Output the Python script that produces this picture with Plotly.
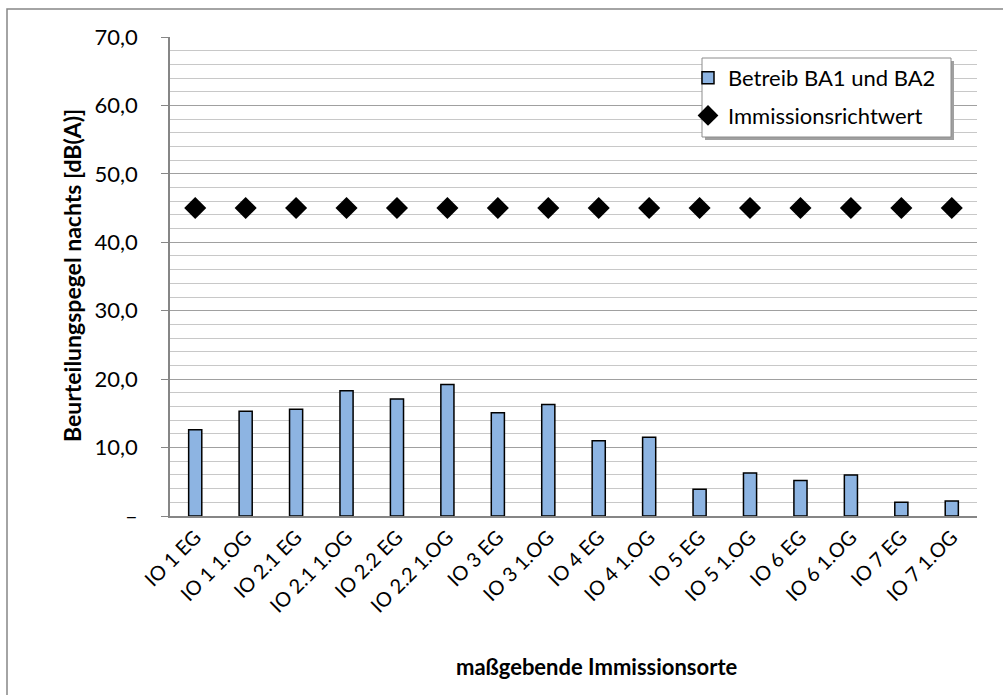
import plotly.graph_objects as go

categories = ["IO 1 EG", "IO 1 1.OG", "IO 2.1 EG", "IO 2.1 1.OG", "IO 2.2 EG", "IO 2.2 1.OG",
              "IO 3 EG", "IO 3 1.OG", "IO 4 EG", "IO 4 1.OG", "IO 5 EG", "IO 5 1.OG",
              "IO 6 EG", "IO 6 1.OG", "IO 7 EG", "IO 7 1.OG"]
betrieb = [12.6, 15.3, 15.6, 18.3, 17.1, 19.2, 15.1, 16.3, 11.0, 11.5, 3.9, 6.3, 5.2, 6.0, 2.0, 2.2]
richtwert = [45.0] * 16
ytick_vals = [0, 10, 20, 30, 40, 50, 60, 70]
ytick_text = ["–", "10,0", "20,0", "30,0", "40,0", "50,0", "60,0", "70,0"]

FONT = "Lato, 'Open Sans', sans-serif"

fig = go.Figure()
fig.add_trace(go.Bar(
    x=categories, y=betrieb, name="Betreib BA1 und BA2", legendgroup="a",
    marker=dict(color="#8DB4E2", line=dict(color="black", width=1.5)),
    width=0.26,
))
fig.add_trace(go.Scatter(
    x=categories, y=richtwert, name="Immissionsrichtwert", mode="markers", legendgroup="b",
    marker=dict(symbol="diamond", size=17, color="black"),
))

L, R, T, B = 170, 26, 37, 179
W, H = 1003, 695
pw, ph = W - L - R, H - T - B

def px(x):
    return (x - L) / pw

def py(y):
    return 1 - (y - T) / ph

fig.update_layout(
    width=W, height=H,
    margin=dict(l=L, r=R, t=T, b=B, autoexpand=False),
    paper_bgcolor="white", plot_bgcolor="white",
    font=dict(family=FONT, color="black", size=21),
    showlegend=True,
    legend=dict(
        x=px(688), y=py(57), xanchor="left", yanchor="top",
        borderwidth=0, bgcolor="rgba(0,0,0,0)",
        font=dict(size=22, family=FONT), tracegroupgap=6, itemwidth=30,
        traceorder="grouped",
    ),
    xaxis=dict(
        type="category", tickangle=-45, showgrid=False,
        showline=True, linecolor="#868686", linewidth=1.5,
        ticks="", tickfont=dict(size=20, family=FONT),
        range=[-0.5, 15.5],
    ),
    yaxis=dict(
        range=[0, 70], tickvals=ytick_vals, ticktext=ytick_text,
        showgrid=True, gridcolor="#A0A0A0", gridwidth=1.2,
        minor=dict(dtick=2, showgrid=True, gridcolor="#C8C8C8", gridwidth=1),
        showline=True, linecolor="#868686", linewidth=1.5,
        ticks="outside", ticklen=7, tickcolor="#868686",
        ticklabelstandoff=19,
        tickfont=dict(size=22, family=FONT), zeroline=False,
    ),
    shapes=[
        dict(type="rect", xref="paper", yref="paper",
             x0=px(7), x1=px(1010), y0=py(705), y1=py(9),
             line=dict(color="#868686", width=1.5), fillcolor="rgba(0,0,0,0)", layer="below"),
        dict(type="rect", xref="paper", yref="paper",
             x0=px(705), x1=px(954), y0=py(140), y1=py(61),
             line=dict(width=0), fillcolor="#A0A0A0", layer="above"),
        dict(type="rect", xref="paper", yref="paper",
             x0=px(702), x1=px(951), y0=py(137), y1=py(58),
             line=dict(color="#8C8C8C", width=1), fillcolor="white", layer="above"),
    ],
    annotations=[
        dict(text="<b>Beurteilungspegel nachts [dB(A)]</b>", xref="paper", yref="paper",
             x=px(72), y=py(276), textangle=-90, showarrow=False,
             font=dict(size=23, family=FONT), xanchor="center", yanchor="middle"),
        dict(text="<b>maßgebende Immissionsorte</b>", xref="paper", yref="paper",
             x=px(596), y=py(666), showarrow=False,
             font=dict(size=22, family=FONT), xanchor="center", yanchor="middle"),
    ],
)

fig.write_html("out.html", config={"displayModeBar": False},
               post_script="document.body.style.margin='0';document.body.style.overflow='hidden';")
